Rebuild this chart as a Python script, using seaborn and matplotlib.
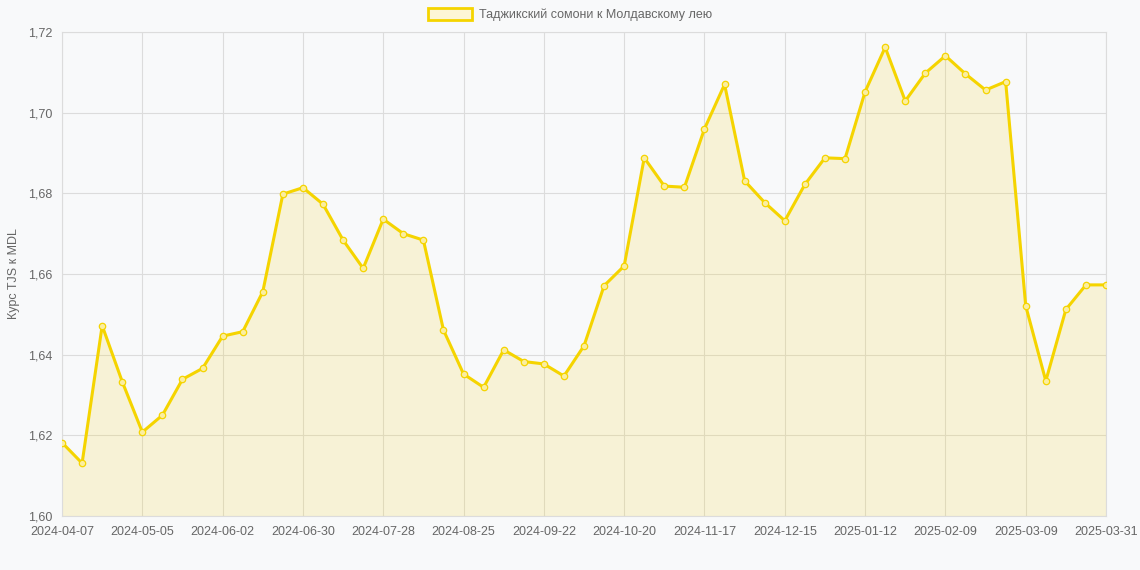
import matplotlib
matplotlib.use("Agg")
import matplotlib.pyplot as plt
import matplotlib.patches as mpatches
import pandas as pd
import seaborn as sns

# недельные даты + последняя точка периода
dates = [d.strftime("%Y-%m-%d") for d in pd.date_range("2024-04-07", periods=52, freq="7D")]
dates.append("2025-03-31")

rates = [
    1.6182, 1.6131, 1.6472, 1.6333, 1.6208, 1.6250, 1.6339, 1.6366, 1.6446, 1.6457,
    1.6556, 1.6798, 1.6814, 1.6773, 1.6684, 1.6614, 1.6736, 1.6700, 1.6684, 1.6461,
    1.6352, 1.6319, 1.6412, 1.6383, 1.6377, 1.6347, 1.6422, 1.6571, 1.6620, 1.6888,
    1.6818, 1.6815, 1.6960, 1.7070, 1.6831, 1.6777, 1.6732, 1.6822, 1.6888, 1.6886,
    1.7052, 1.7162, 1.7029, 1.7098, 1.7141, 1.7096, 1.7056, 1.7077, 1.6521, 1.6335,
    1.6512, 1.6573, 1.6573,
]
y_ticks = [1.60, 1.62, 1.64, 1.66, 1.68, 1.70, 1.72]

series_label = "Таджикский сомони к Молдавскому лею"
y_label = "Курс TJS к MDL"

df = pd.DataFrame({"idx": range(len(rates)), "date": dates, "rate": rates})

line_color = "#f5d400"
grid_color = "#dcdcdc"
text_color = "#666666"
bg_color = "#f8f9fa"

sns.set_style("white")
plt.rcParams["font.family"] = ["Liberation Sans", "DejaVu Sans"]

fig = plt.figure(figsize=(11.4, 5.7), dpi=100, facecolor=bg_color)
ax = fig.add_axes([0.0544, 0.0947, 0.9158, 0.8492])
ax.set_facecolor(bg_color)

ax.fill_between(df["idx"], df["rate"], 1.60, color="#f7d21a", alpha=0.16, linewidth=0, zorder=2)
sns.lineplot(data=df, x="idx", y="rate", ax=ax, color=line_color, linewidth=2.2,
             marker="o", markersize=4.6, markerfacecolor="#fbeea0",
             markeredgecolor=line_color, markeredgewidth=0.9, zorder=3)

ax.set_xlim(0, len(rates) - 1)
ax.set_ylim(1.60, 1.72)

tick_idx = list(range(0, len(rates), 4))
ax.set_xticks(tick_idx)
ax.set_xticklabels([dates[i] for i in tick_idx])
ax.set_yticks(y_ticks)
ax.set_yticklabels([f"{v:.2f}".replace(".", ",") for v in y_ticks])

ax.grid(True, color=grid_color, linewidth=0.8, zorder=0)
ax.set_axisbelow(True)
for s in ax.spines.values():
    s.set_color(grid_color)
    s.set_linewidth(0.8)
ax.tick_params(axis="both", colors=text_color, labelsize=9, length=5, width=0.8,
               color=grid_color, pad=2)

ax.set_xlabel("")
ax.set_ylabel(y_label, color=text_color, fontsize=9, labelpad=6)

handle = mpatches.Patch(facecolor="#fdf6d6", edgecolor=line_color, linewidth=2)
leg = fig.legend([handle], [series_label], loc="center", bbox_to_anchor=(0.5, 0.974),
                 frameon=False, fontsize=9, handlelength=3.5, handleheight=1.0,
                 handletextpad=0.6)
for t in leg.get_texts():
    t.set_color(text_color)

fig.savefig("out.png", dpi=100, facecolor=bg_color)
